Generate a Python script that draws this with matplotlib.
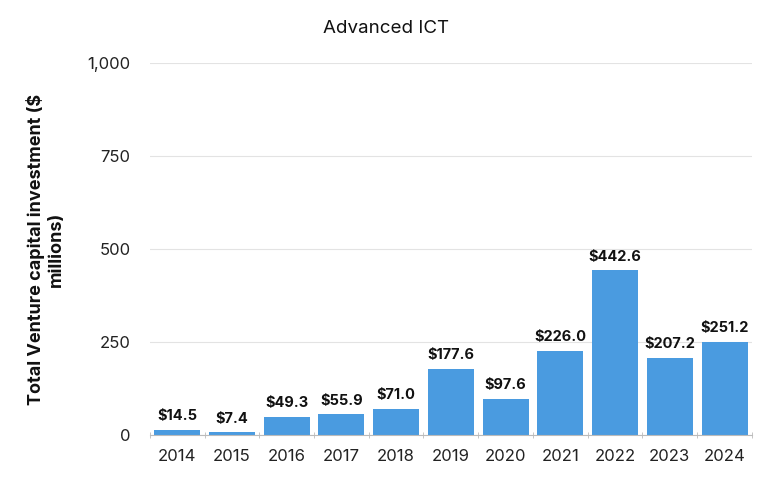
import matplotlib
matplotlib.use("Agg")
import matplotlib.pyplot as plt
import numpy as np
from matplotlib.ticker import FuncFormatter, FixedLocator

years = ["2014", "2015", "2016", "2017", "2018", "2019", "2020", "2021", "2022", "2023", "2024"]
values = [14.5, 7.4, 49.3, 55.9, 71.0, 177.6, 97.6, 226.0, 442.6, 207.2, 251.2]
yticks = [0, 250, 500, 750, 1000]

plt.rcParams['font.family'] = ['Inter', 'DejaVu Sans']

fig = plt.figure(figsize=(7.8, 4.94), dpi=100)
ax = fig.add_axes([0.192, 0.1194, 0.772, 0.7531])

x = np.arange(len(years))
bars = ax.bar(x, values, width=0.84, color="#4a9be0", zorder=3)
for xi, v in zip(x, values):
    ax.text(xi, v + 18, f"${v:.1f}", ha="center", va="bottom", fontsize=10.5,
            fontweight="bold", color="#111111")

ax.set_xlim(-0.5, len(years) - 0.5)
ax.set_ylim(0, 1000)
ax.set_yticks(yticks)
ax.yaxis.set_major_formatter(FuncFormatter(lambda v, p: f"{int(v):,}"))
ax.set_xticks(x)
ax.set_xticklabels(years)
ax.xaxis.set_minor_locator(FixedLocator(np.arange(-0.5, len(years), 1.0)))
ax.tick_params(axis="x", which="major", length=0, labelsize=12, pad=10, colors="#222222")
ax.tick_params(axis="x", which="minor", length=4, color="#bbbbbb", direction="inout")
ax.tick_params(axis="y", length=0, labelsize=12, pad=14, colors="#222222")

ax.grid(axis="y", color="#e3e3e3", linewidth=0.8, zorder=0)
for s in ["top", "right", "left"]:
    ax.spines[s].set_visible(False)
ax.spines["bottom"].set_color("#bbbbbb")
ax.spines["bottom"].set_zorder(4)

ax.set_ylabel("Total Venture capital investment ($\nmillions)", fontsize=13,
              fontweight="bold", color="#111111", labelpad=16)

fig.text(0.495, 0.943, "Advanced ICT", ha="center", va="center", fontsize=13.5, color="#111111")

fig.savefig("out.png", dpi=100)
